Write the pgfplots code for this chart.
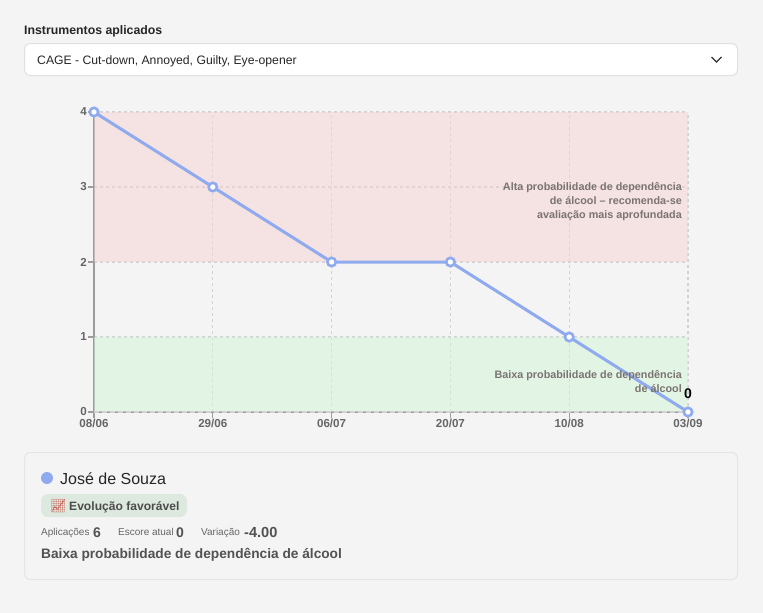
\documentclass[border=0pt]{standalone}
\usepackage{fontspec}
\usepackage{pgfplots}
\pgfplotsset{compat=1.18}
\setmainfont{Liberation Sans}
\newfontfamily\emo{Noto Emoji}
\definecolor{bg}{HTML}{F4F4F4}
\definecolor{serie}{HTML}{8FAAEE}
\definecolor{tick}{HTML}{666666}
\definecolor{note}{HTML}{7A7472}
\definecolor{gridc}{HTML}{D2D2D2}
\definecolor{axisc}{HTML}{9C9C9C}
\newcommand{\fs}[1]{\fontsize{#1}{#1}\selectfont}
\newcommand{\T}[5]{\node[anchor=base west,inner sep=0pt,text=#4] at (#1,#2) {\fs{#3}#5};}
\newcommand{\R}[5]{\node[anchor=base east,inner sep=0pt,text=#4] at (#1,#2) {\fs{#3}#5};}
\begin{document}
\begin{tikzpicture}[x=1pt,y=-1pt]
\useasboundingbox (0,0) rectangle (763,613);
\fill[bg] (0,0) rectangle (763,613);
\T{24}{34.5}{12.3}{black!85}{\bfseries Instrumentos aplicados}
\draw[draw=black!12,fill=white,rounded corners=6pt,line width=1pt] (24.5,43.5) rectangle (737.5,75.5);
\T{37}{64}{12.2}{black!85}{CAGE - Cut-down, Annoyed, Guilty, Eye-opener}
\draw[black!80,line width=1.4pt] (711.5,57) -- (716.5,62) -- (721.5,57);
\begin{axis}[
  at={(94pt,-412pt)},anchor=south west,
  scale only axis,width=594pt,height=300pt,
  xmin=0,xmax=5,ymin=0,ymax=4,
  xtick={0,1,2,3,4,5},
  xticklabels={08/06,29/06,06/07,20/07,10/08,03/09},
  ytick={0,1,2,3,4},
  axis x line*=bottom,axis y line*=left,
  axis line style={axisc,line width=1.8pt,-},
  grid=both,
  major grid style={gridc,line width=1.3pt,dash pattern=on 3pt off 3pt},
  tick style={axisc,line width=1.2pt},
  major tick length=6pt,
  tick align=outside,
  xticklabel style={font=\fs{11.6}\bfseries,text=tick,yshift=1.5pt,inner sep=2pt},
  yticklabel style={font=\fs{11.6}\bfseries,text=tick,xshift=1pt,inner sep=2pt},
  /pgf/number format/assume math mode=true,
  clip=false,
]
\addplot[draw=none,fill={rgb,255:red,246;green,210;blue,210},fill opacity=.5] coordinates {(0,2)(5,2)(5,4)(0,4)} --cycle;
\addplot[draw=none,fill={rgb,255:red,210;green,244;blue,214},fill opacity=.5] coordinates {(0,0)(5,0)(5,1)(0,1)} --cycle;
\addplot[color=gridc,line width=1.6pt,dash pattern=on 5pt off 3pt] coordinates {(0,0)(5,0)};
\addplot[serie,line width=3pt,mark=*,mark size=4.2pt,mark options={fill=white,draw=serie,line width=2.6pt}] coordinates {(0,4)(1,3)(2,2)(3,2)(4,1)(5,0)};
\end{axis}
\R{682}{190.5}{10.8}{note}{\bfseries Alta probabilidade de dependência}
\R{682}{204}{10.8}{note}{\bfseries de álcool – recomenda-se}
\R{682}{218}{10.8}{note}{\bfseries avaliação mais aprofundada}
\R{682}{378}{10.8}{note}{\bfseries Baixa probabilidade de dependência}
\R{682}{392}{10.8}{note}{\bfseries de álcool}
\node[anchor=base,inner sep=0pt] at (688,398) {\fs{14}\bfseries 0};
\draw[draw=black!10,fill=bg,rounded corners=6pt,line width=1pt] (24.5,452.5) rectangle (737.5,579.5);
\fill[serie] (47,478) circle (6pt);
\T{60}{484}{16}{black!85}{José de Souza}
\fill[fill={rgb,255:red,221;green,233;blue,222},rounded corners=7pt] (41,494) rectangle (187,517);
\node[anchor=base west,inner sep=0pt,text={rgb,255:red,200;green,90;blue,80}] at (50,510.5) {\fs{13}\emo 📈};
\T{69}{510}{12.1}{black!70}{\bfseries Evolução favorável}
\T{41}{535}{10}{black!60}{Aplicações}
\T{93}{537}{14}{black!68}{\bfseries 6}
\T{118}{535}{10}{black!60}{Escore atual}
\T{176}{537}{14}{black!68}{\bfseries 0}
\T{201}{535}{10}{black!60}{Variação}
\T{244}{537}{14.6}{black!68}{\bfseries -4.00}
\T{41}{558}{13.7}{black!68}{\bfseries Baixa probabilidade de dependência de álcool}
\end{tikzpicture}
\end{document}
